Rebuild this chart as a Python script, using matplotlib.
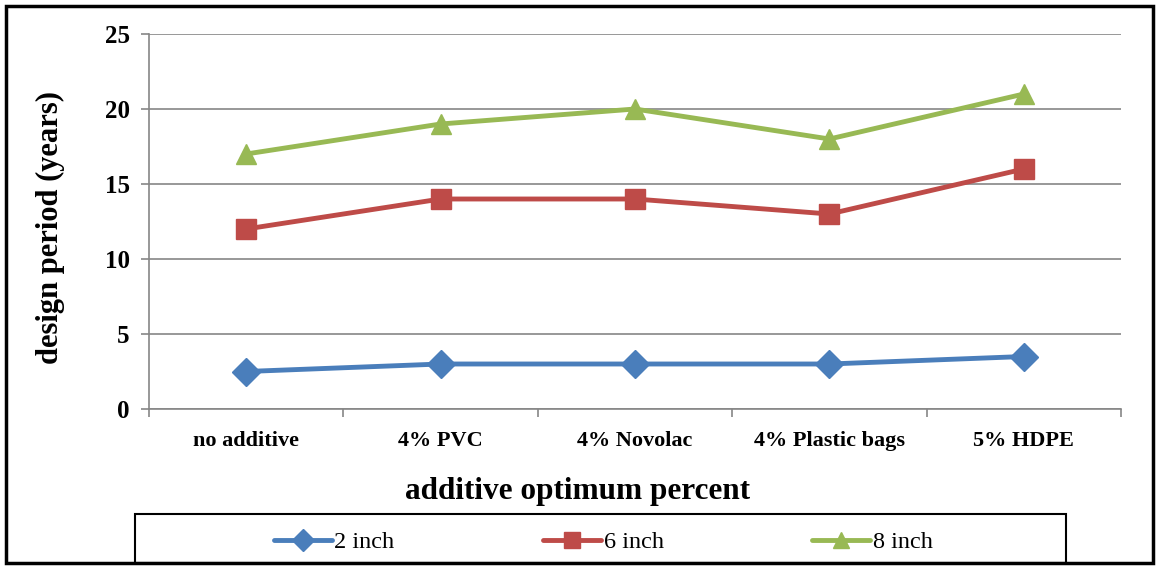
import matplotlib.pyplot as plt
from matplotlib.patches import Rectangle

categories = ["no additive", "4% PVC", "4% Novolac", "4% Plastic bags", "5% HDPE"]
series_names = ["2 inch", "6 inch", "8 inch"]
inch2 = [2.5, 3, 3, 3, 3.5]
inch6 = [12, 14, 14, 13, 16]
inch8 = [17, 19, 20, 18, 21]
y_ticks = [0, 5, 10, 15, 20, 25]

colors = ["#4A7EBB", "#BE4B48", "#98B954"]
markers = ["D", "s", "^"]
msizes = [14, 14, 15]

plt.rcParams['font.family'] = ['Liberation Serif', 'DejaVu Serif']

W, H = 1159, 567
fig = plt.figure(figsize=(W / 100, H / 100), dpi=100)
ax = fig.add_axes([149 / W, 1 - 409 / H, (1121 - 149) / W, (409 - 34) / H])

x = list(range(len(categories)))
for vals, name, c, m, ms in zip([inch2, inch6, inch8], series_names, colors, markers, msizes):
    ax.plot(x, vals, color=c, lw=3.5, marker=m, ms=ms, label=name, solid_capstyle='round')

ax.set_xlim(-0.5, len(categories) - 0.5)
ax.set_ylim(0, 25)
ax.set_yticks(y_ticks)
ax.set_yticklabels([str(v) for v in y_ticks], fontsize=18, fontweight='bold')
ax.set_xticks(x)
ax.set_xticklabels(categories, fontsize=16, fontweight='bold')
ax.set_xticks([i - 0.5 for i in range(len(categories) + 1)], minor=True)
ax.tick_params(axis='x', which='major', length=0, pad=16)
ax.tick_params(axis='x', which='minor', length=6, color='#868686', width=1.2)
ax.tick_params(axis='y', length=6, color='#868686', width=1.2, pad=8)
ax.grid(axis='y', color='#868686', lw=1.2)
ax.set_axisbelow(True)
for s in ['top', 'right']:
    ax.spines[s].set_visible(False)
for s in ['left', 'bottom']:
    ax.spines[s].set_color('#868686')
    ax.spines[s].set_linewidth(1.2)

fig.text(50 / W, 1 - 228 / H, "design period (years)", rotation=90, ha='center', va='center',
         fontsize=22, fontweight='bold')
fig.text(578 / W, 1 - 492 / H, "additive optimum percent", ha='center', va='center',
         fontsize=22.5, fontweight='bold')

# legend box and outer border
fig.patches.append(Rectangle((135 / W, 1 - 563 / H), (1066 - 135) / W, 49 / H,
                             transform=fig.transFigure, fill=False, ec='black', lw=1.5))
fig.patches.append(Rectangle((6 / W, 1 - 563 / H), (1153 - 6) / W, (563 - 6) / H,
                             transform=fig.transFigure, fill=False, ec='black', lw=2.5))

fig.legend(loc='center', bbox_to_anchor=(603 / W, 1 - 542 / H), ncol=3, frameon=False,
           fontsize=17.5, handlelength=2.4, handletextpad=0.1, columnspacing=6.1,
           markerscale=0.8)

fig.savefig("out.png", dpi=100)
